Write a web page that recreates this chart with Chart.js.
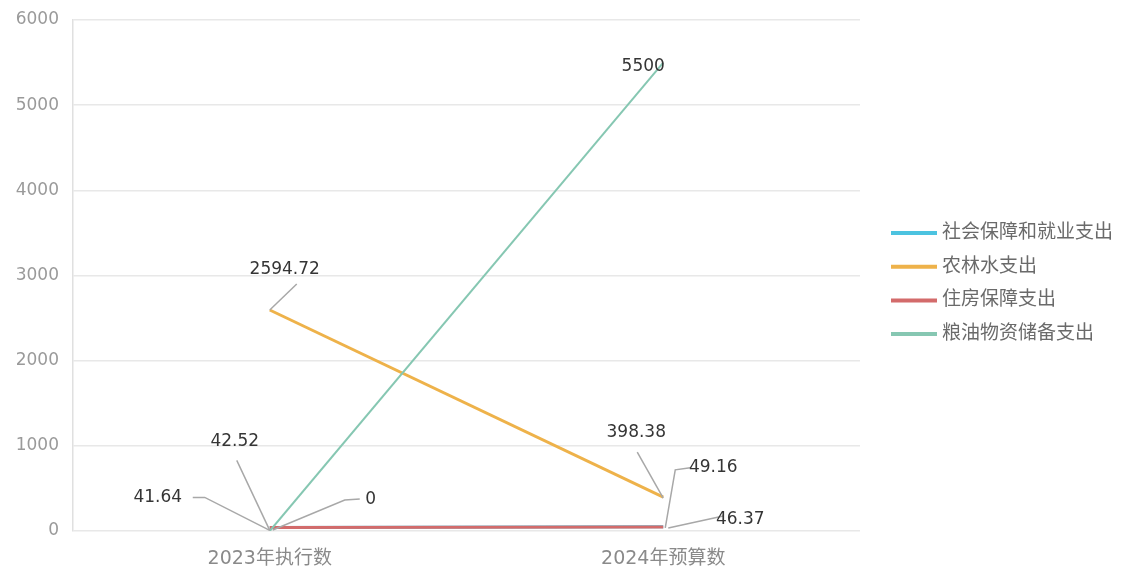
<!DOCTYPE html>
<html><head><meta charset="utf-8">
<script src="https://cdn.jsdelivr.net/npm/chart.js@4/dist/chart.umd.min.js"></script>
<style>html,body{margin:0;padding:0;background:#fff}#wrap{width:1135px;height:570px}</style>
</head><body><div id="wrap"><canvas id="c" width="1135" height="570"></canvas></div>
<script>
const categories = ['2023年执行数', '2024年预算数'];
const seriesNames = ['社会保障和就业支出', '农林水支出', '住房保障支出', '粮油物资储备支出'];
const socialSecurity = [41.64, 49.16];
const agriculture = [2594.72, 398.38];
const housing = [42.52, 46.37];
const grainReserve = [0, 5500];
const yTicks = [0, 1000, 2000, 3000, 4000, 5000, 6000];

const colors = ['#4cc3e0', '#eeb24a', '#d36b6b', '#86c7b2'];
const FONT = '"DejaVu Sans", "Noto Sans CJK SC", sans-serif';

// label placement: [datasetIndex, dataIndex, textDx, textDy, leader points (offsets from point)]
const labelLayout = [
  [3, 1, -20, 4, []],
  [1, 0, 15, -40, [[27, -26], [0, 0]]],
  [2, 0, -35, -86, [[-33, -67], [0, 3]]],
  [0, 0, -112, -30, [[-77, -30], [-65, -30], [0, 3]]],
  [3, 0, 101, -31, [[90, -32], [75, -31], [3, -1]]],
  [1, 1, -27, -64, [[-26, -45], [0, 1]]],
  [0, 1, 50, -59, [[27, -59], [12, -57], [2, 1]]],
  [2, 1, 77, -7, [[60, -11], [5, 1]]]
];

const labelPlugin = {
  id: 'leaderLabels',
  afterDatasetsDraw(chart) {
    const ctx = chart.ctx;
    ctx.save();
    labelLayout.forEach(([di, i, dx, dy, pts]) => {
      const p = chart.getDatasetMeta(di).data[i];
      const v = chart.data.datasets[di].data[i];
      if (pts.length) {
        ctx.beginPath();
        ctx.strokeStyle = '#a8a8a8';
        ctx.lineWidth = 1.5;
        pts.forEach(([ox, oy], k) => {
          if (k === 0) ctx.moveTo(p.x + ox, p.y + oy); else ctx.lineTo(p.x + ox, p.y + oy);
        });
        ctx.stroke();
      }
      ctx.font = '17px ' + FONT;
      ctx.fillStyle = '#353535';
      ctx.textAlign = 'center';
      ctx.textBaseline = 'middle';
      ctx.fillText(String(v), p.x + dx, p.y + dy);
    });
    ctx.restore();
  }
};

const legendPlugin = {
  id: 'sideLegend',
  afterDraw(chart) {
    const ctx = chart.ctx;
    ctx.save();
    seriesNames.forEach((n, k) => {
      const y = 233 + k * 33.7;
      ctx.strokeStyle = colors[k];
      ctx.lineWidth = 4;
      ctx.beginPath();
      ctx.moveTo(891, y); ctx.lineTo(937, y);
      ctx.stroke();
      ctx.font = '19px ' + FONT;
      ctx.fillStyle = '#6a6a6a';
      ctx.textAlign = 'left';
      ctx.textBaseline = 'middle';
      ctx.fillText(n, 942, y);
    });
    ctx.restore();
  }
};

const allSeries = [socialSecurity, agriculture, housing, grainReserve];
const widths = [3, 3, 3, 2];
const orders = [4, 2, 3, 1];

new Chart(document.getElementById('c'), {
  type: 'line',
  data: {
    labels: categories,
    datasets: allSeries.map((d, k) => ({
      label: seriesNames[k],
      data: d,
      borderColor: colors[k],
      backgroundColor: colors[k],
      borderWidth: widths[k],
      pointRadius: 0,
      tension: 0,
      order: orders[k]
    }))
  },
  options: {
    responsive: false,
    animation: false,
    layout: { padding: { top: 20, right: 275, bottom: 0, left: 0 } },
    plugins: { legend: { display: false }, tooltip: { enabled: false } },
    scales: {
      x: {
        offset: true,
        grid: { display: false, drawTicks: false },
        border: { display: false },
        ticks: { color: '#8a8a8a', font: { size: 19, family: FONT }, padding: 17 },
        afterFit(s) { s.height = 39; }
      },
      y: {
        min: 0, max: 6000,
        afterBuildTicks(s) { s.ticks = yTicks.map(v => ({ value: v })); },
        grid: { color: '#e8e8e8', lineWidth: 1.5, drawTicks: false },
        border: { display: true, color: '#e0e0e0', width: 1.5 },
        ticks: { color: '#9a9a9a', font: { size: 17, family: FONT }, padding: 14, callback: v => String(v) },
        afterFit(s) { s.width = 73; s.paddingTop = 0; s.paddingBottom = 0; }
      }
    }
  },
  plugins: [labelPlugin, legendPlugin]
});
</script>
</body></html>
